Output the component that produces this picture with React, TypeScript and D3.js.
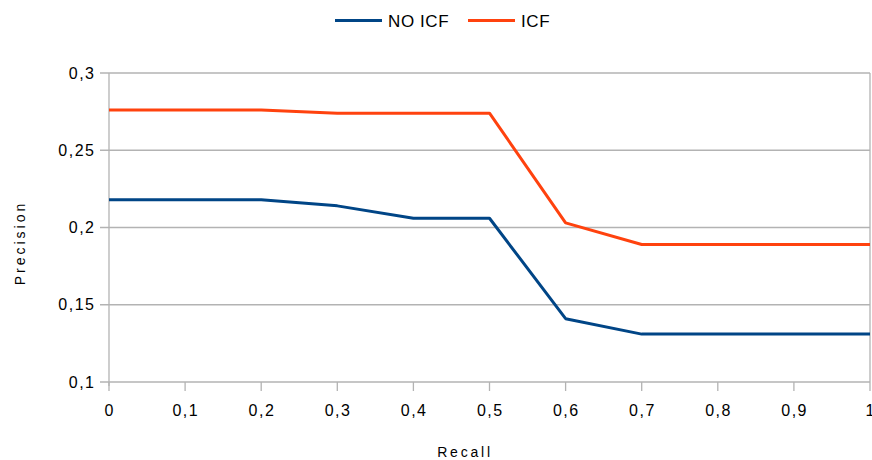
import React from "react";
import * as d3 from "d3";

const recall = [0, 0.1, 0.2, 0.3, 0.4, 0.5, 0.6, 0.7, 0.8, 0.9, 1];
const noIcf = [0.218, 0.218, 0.218, 0.214, 0.206, 0.206, 0.141, 0.131, 0.131, 0.131, 0.131];
const icf = [0.276, 0.276, 0.276, 0.274, 0.274, 0.274, 0.203, 0.189, 0.189, 0.189, 0.189];
const yTicks = [0.1, 0.15, 0.2, 0.25, 0.3];
const xTicks = [0, 0.1, 0.2, 0.3, 0.4, 0.5, 0.6, 0.7, 0.8, 0.9, 1];
const seriesNames = ["NO ICF", "ICF"];
const colors = ["#004586", "#ff420e"];

const W = 872, H = 460;
const left = 109, right = 870, top = 73, bottom = 382;

export default function App() {
  const x = d3.scaleLinear().domain([0, 1]).range([left, right]);
  const y = d3.scaleLinear().domain([0.1, 0.3]).range([bottom, top]);
  const fmt = (v: number) => String(+v.toFixed(2)).replace(".", ",");
  const line = d3.line<number>().x((_, i) => x(recall[i])).y((d) => y(d));
  const series = [noIcf, icf];
  const font = "'Liberation Sans', Arial, sans-serif";
  return (
    <svg width={W} height={H} style={{ position: "absolute", left: 0, top: 0, background: "#fff" }} fontFamily={font}>
      <rect width={W} height={H} fill="#fff" />
      {yTicks.map((t) => (
        <g key={t}>
          <line x1={left - 9} x2={right} y1={y(t)} y2={y(t)} stroke="#b3b3b3" strokeWidth={1.3} />
          <text x={95.5} y={y(t)} dy="0.35em" textAnchor="end" fontSize={16} letterSpacing={1.5} fill="#000">{fmt(t)}</text>
        </g>
      ))}
      {xTicks.map((t) => (
        <g key={t}>
          <line x1={x(t)} x2={x(t)} y1={bottom} y2={bottom + 9} stroke="#b3b3b3" strokeWidth={1.3} />
          <text x={x(t) + 0.75} y={410} dy="0.35em" textAnchor="middle" fontSize={16} letterSpacing={1.5} fill="#000">{fmt(t)}</text>
        </g>
      ))}
      <line x1={left} x2={left} y1={top} y2={bottom + 4} stroke="#b3b3b3" strokeWidth={1.3} />
      <line x1={right} x2={right} y1={top} y2={bottom} stroke="#b3b3b3" strokeWidth={1.3} />
      {series.map((s, i) => (
        <path key={i} d={line(s) || ""} fill="none" stroke={colors[i]} strokeWidth={3} strokeLinejoin="round" />
      ))}
      <text x={465} y={452} dy="0.35em" textAnchor="middle" fontSize={14} letterSpacing={2.8} fill="#000">Recall</text>
      <text transform={`translate(20,243) rotate(-90)`} dy="0.35em" textAnchor="middle" fontSize={14} letterSpacing={3} fill="#000">Precision</text>
      {seriesNames.map((n, i) => {
        const lx = i === 0 ? 335 : 468;
        return (
          <g key={n}>
            <line x1={lx} x2={lx + 47} y1={20.5} y2={20.5} stroke={colors[i]} strokeWidth={3} />
            <text x={lx + 53} y={21.5} dy="0.35em" fontSize={17} letterSpacing={0.6} fill="#000">{n}</text>
          </g>
        );
      })}
    </svg>
  );
}
